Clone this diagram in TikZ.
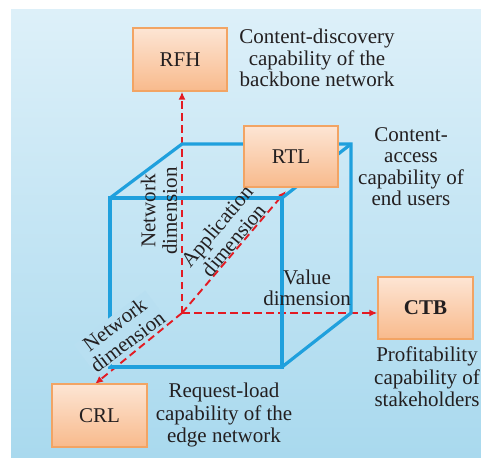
\documentclass[tikz,border=0pt]{standalone}
\usepackage{fontspec}
\setmainfont{Liberation Serif}
\newfontfamily\capfont{Liberation Serif}
\usetikzlibrary{arrows.meta,calc}
\definecolor{bgtop}{HTML}{DDF0F9}
\definecolor{bgbot}{HTML}{A9D9EE}
\definecolor{cubeblue}{HTML}{1FA0DD}
\definecolor{dimred}{HTML}{E31B23}
\definecolor{boxtop}{HTML}{FDE5D4}
\definecolor{boxbot}{HTML}{F8BA8C}
\definecolor{boxline}{HTML}{F2A464}
\definecolor{txt}{HTML}{231F20}
\begin{document}
\begin{tikzpicture}[x=1pt,y=-1pt,
  font=\capfont\fontsize{21}{21.5}\selectfont, text=txt,
  capbox/.style={draw=boxline, line width=1.3pt, top color=boxtop, bottom color=boxbot,
    minimum width=94pt, minimum height=62pt, inner sep=0pt},
  cubeline/.style={draw=cubeblue, line width=3.2pt, line join=miter},
  dimarrow/.style={draw=dimred, line width=1.9pt, dash pattern=on 7.5pt off 4.5pt,
    -{Latex[length=8pt,width=7pt]}},
  caption/.style={align=center, inner sep=0pt},
  widecaption/.style={align=center, inner sep=0pt, font=\capfont\fontsize{21}{22.5}\selectfont},
]
\useasboundingbox (0,0) rectangle (481,457);
\shade[top color=bgtop, bottom color=bgbot] (11,10) rectangle (481,457);

% cube corners
\coordinate (F1) at (110,198);
\coordinate (F2) at (282,198);
\coordinate (F3) at (282,367);
\coordinate (F4) at (110,367);
\coordinate (B1) at (182,144);
\coordinate (B2) at (351,144);
\coordinate (B3) at (351,313);
\coordinate (O) at (182,313);

% boxes (positions)
\path (180,59.5) node[capbox, minimum height=63pt] (RFH) {};
\path (291,156.5) node[capbox, minimum height=61pt] (RTL) {};
\path (425.5,308) node[capbox, minimum width=95pt] (CTB) {};
\path (99.5,415.5) node[capbox, minimum width=95pt, minimum height=63pt] (CRL) {};

\coordinate (crltip) at (95,384);
\coordinate (rtltip) at (286,191);

% red dimension arrows
\draw[dimarrow] (O) -- (O |- RFH.south);
\draw[dimarrow] (O) -- (O -| CTB.west);
\draw[dimarrow] (O) -- (crltip);
\draw[dimarrow] (O) -- (rtltip);

% blue cube
\draw[cubeline] (F1) -- (F2) -- (F3) -- (F4) -- cycle;
\draw[cubeline] (F1) -- (B1) -- (B2) -- (B3) -- (F3);
\draw[cubeline] (F2) -- (B2);

% boxes drawn on top
\node[capbox, minimum height=63pt] at (RFH) {RFH};
\node[capbox, minimum height=61pt] at (RTL) {RTL};
\node[capbox, minimum width=95pt] at (CTB) {\bfseries CTB};
\node[capbox, minimum width=95pt, minimum height=63pt] at (CRL) {CRL};

% captions
\node[caption] (cRFH) at (317,58) {Content-discovery\\capability of the\\backbone network};
\node[caption] (cRTL) at (411,166.5) {Content-\\access\\capability of\\end users};
\node[widecaption] (cCTB) at (427,377) {Profitability\\capability of\\stakeholders};
\node[widecaption] (cCRL) at (224,415) {Request-load\\capability of the\\edge network};

% dimension labels
\node[caption, rotate=90] (dNet) at (159,211) {Network\\dimension};
\node[caption, rotate=50] (dApp) at (225,233) {Application\\dimension};
\node[caption] (dVal) at (307,288) {Value\\dimension};
\node[caption, rotate=37, fill=bgbot!72!bgtop, inner sep=1pt] (dNet2) at (121,333) {Network\\dimension};
\end{tikzpicture}
\end{document}
